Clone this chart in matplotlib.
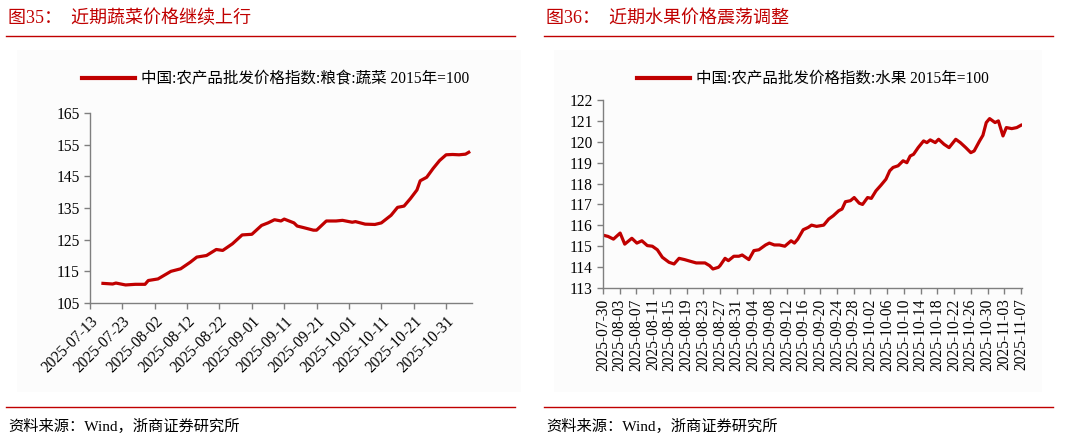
import numpy as np
import pandas as pd
import matplotlib.pyplot as plt
import matplotlib.dates as mdates

plt.rcParams['font.family'] = ['Liberation Serif', 'Noto Sans CJK SC']

# 图35 蔬菜 (日期, 指数)
veg_dates = ['2025-07-17', '2025-07-20', '2025-07-21', '2025-07-24', '2025-07-27', '2025-07-30',
             '2025-07-31', '2025-08-03', '2025-08-07', '2025-08-10', '2025-08-13', '2025-08-15',
             '2025-08-18', '2025-08-21', '2025-08-23', '2025-08-26', '2025-08-29', '2025-09-01',
             '2025-09-04', '2025-09-06', '2025-09-08', '2025-09-10', '2025-09-11', '2025-09-14',
             '2025-09-15', '2025-09-17', '2025-09-20', '2025-09-21', '2025-09-24', '2025-09-27',
             '2025-09-29', '2025-10-02', '2025-10-03', '2025-10-06', '2025-10-09', '2025-10-11',
             '2025-10-14', '2025-10-16', '2025-10-18', '2025-10-20', '2025-10-22', '2025-10-23',
             '2025-10-25', '2025-10-27', '2025-10-29', '2025-10-31', '2025-11-02', '2025-11-04',
             '2025-11-06', '2025-11-07']
veg_vals = [111.2, 111.0, 111.3, 110.7, 110.9, 110.9, 112.1, 112.6, 115.0, 115.8, 117.9, 119.5,
            120.0, 121.9, 121.6, 123.7, 126.5, 126.7, 129.5, 130.3, 131.3, 130.9, 131.5, 130.3,
            129.3, 128.8, 128.0, 128.0, 130.9, 130.9, 131.1, 130.5, 130.7, 129.9, 129.8, 130.3,
            132.7, 135.2, 135.6, 138.0, 140.7, 143.6, 144.7, 147.5, 150.0, 151.8, 151.9, 151.8,
            152.0, 152.6]

# 图36 水果 (距 07-30 的天数, 指数)
fruit_days = [0, 1.2, 2.5, 4.1, 5.2, 6.9, 8.1, 9.3, 10.6, 11.8, 13.0, 14.2, 15.8, 17.0, 18.2, 19.5,
              20.7, 22.3, 24.4, 25.5, 26.3, 27.6, 28.0, 29.2, 30.0, 31.3, 32.5, 33.3, 34.9, 36.1,
              37.3, 38.9, 39.8, 41.0, 42.2, 43.5, 45.0, 45.8, 46.6, 47.9, 49.1, 49.9, 51.1, 52.8,
              54.0, 55.1, 56.4, 57.2, 58.0, 59.2, 60.1, 61.3, 62.1, 63.3, 64.2, 65.3, 66.5, 67.7,
              68.6, 69.4, 70.6, 71.8, 72.7, 73.5, 74.3, 75.4, 76.7, 77.5, 78.3, 79.5, 80.3, 81.6,
              82.8, 84.4, 85.5, 86.8, 88.0, 88.8, 90.1, 90.9, 91.7, 92.5, 93.8, 94.6, 95.7, 96.5,
              97.8, 99.0, 100.0]
fruit_vals = [115.53, 115.47, 115.34, 115.63, 115.10, 115.38, 115.15, 115.26, 115.03, 115.00,
              114.83, 114.47, 114.23, 114.15, 114.42, 114.36, 114.29, 114.20, 114.20, 114.07,
              113.91, 113.99, 114.07, 114.42, 114.31, 114.52, 114.52, 114.58, 114.36, 114.79,
              114.83, 115.06, 115.15, 115.06, 115.06, 115.00, 115.26, 115.15, 115.34, 115.79,
              115.90, 116.01, 115.95, 116.01, 116.30, 116.46, 116.70, 116.78, 117.13, 117.18,
              117.33, 117.06, 117.00, 117.33, 117.29, 117.65, 117.92, 118.21, 118.61, 118.77,
              118.85, 119.09, 119.00, 119.32, 119.40, 119.72, 120.04, 119.96, 120.09, 119.96,
              120.12, 119.88, 119.72, 120.12, 119.96, 119.72, 119.48, 119.56, 120.04, 120.31,
              120.92, 121.11, 120.92, 121.00, 120.28, 120.68, 120.63, 120.68, 120.79]

red = '#C00000'
W, H = 1068, 441
fig = plt.figure(figsize=(W / 100, H / 100), dpi=100)


def px(x0, y0, x1, y1):
    return [x0 / W, 1 - y1 / H, (x1 - x0) / W, (y1 - y0) / H]


# 背景框
for x0, x1 in [(17, 521), (554, 1042)]:
    fig.add_artist(plt.Rectangle((x0 / W, 1 - 392 / H), (x1 - x0) / W, 342 / H,
                                 facecolor='#FCFCFC', edgecolor='none', zorder=-5))

# 标题、分隔线、来源
for x0, x1, title in [(6, 515, '图35：  近期蔬菜价格继续上行'), (544, 1053, '图36：  近期水果价格震荡调整')]:
    fig.text((x0 + 2) / W, 1 - 18.5 / H, title, color=red, fontsize=13, va='center', ha='left')
    fig.add_artist(plt.Line2D([x0 / W, x1 / W], [1 - 36 / H, 1 - 36 / H], color=red, lw=1))
    fig.add_artist(plt.Line2D([x0 / W, x1 / W], [1 - 406.5 / H, 1 - 406.5 / H], color=red, lw=1))
    fig.text((x0 + 2) / W, 1 - 426 / H, '资料来源：Wind，浙商证券研究所', fontsize=11, va='center', ha='left')


def style(ax):
    ax.set_facecolor('none')
    for s in ['top', 'right']:
        ax.spines[s].set_visible(False)
    for s in ['left', 'bottom']:
        ax.spines[s].set_color('#7F7F7F')
        ax.spines[s].set_linewidth(1)
    ax.tick_params(axis='both', colors='#7F7F7F', labelcolor='black', labelsize=11.2, length=4, width=1)


# 左图
ax1 = fig.add_axes(px(90, 113, 472, 303))
vd = pd.to_datetime(veg_dates)
ax1.plot(vd, veg_vals, color=red, lw=2.3)
ax1.set_ylim(105, 165)
ax1.set_yticks(np.arange(105, 166, 10))
ax1.set_xlim(pd.Timestamp('2025-07-13'), pd.Timestamp('2025-11-08'))
ax1.set_xticks(pd.date_range('2025-07-13', '2025-10-31', freq='10D'))
ax1.xaxis.set_major_formatter(mdates.DateFormatter('%Y-%m-%d'))
style(ax1)
plt.setp(ax1.get_xticklabels(), rotation=45, ha='right', rotation_mode='anchor')
ax1.plot([], [], color=red, lw=3, label='中国:农产品批发价格指数:粮食:蔬菜 2015年=100')
fig.legend(handles=[ax1.lines[-1]], loc='center left', bbox_to_anchor=(68 / W, 1 - 79 / H),
           frameon=False, fontsize=11.2, handlelength=3.4, handletextpad=0.4)

# 右图
ax2 = fig.add_axes(px(603, 100, 1022, 288))
fd = pd.Timestamp('2025-07-30') + pd.to_timedelta(np.array(fruit_days) * 24, unit='h')
ax2.plot(fd, fruit_vals, color=red, lw=2.3)
ax2.set_ylim(113, 122)
ax2.set_yticks(np.arange(113, 123, 1))
ax2.set_xlim(pd.Timestamp('2025-07-30'), pd.Timestamp('2025-11-07 06:00'))
ax2.set_xticks(pd.date_range('2025-07-30', '2025-11-07', freq='4D'))
ax2.xaxis.set_major_formatter(mdates.DateFormatter('%Y-%m-%d'))
style(ax2)
plt.setp(ax2.get_xticklabels(), rotation=90)
ax2.plot([], [], color=red, lw=3, label='中国:农产品批发价格指数:水果 2015年=100')
fig.legend(handles=[ax2.lines[-1]], loc='center left', bbox_to_anchor=(623 / W, 1 - 79 / H),
           frameon=False, fontsize=11.2, handlelength=3.4, handletextpad=0.4)

fig.savefig('out.png', dpi=100)
